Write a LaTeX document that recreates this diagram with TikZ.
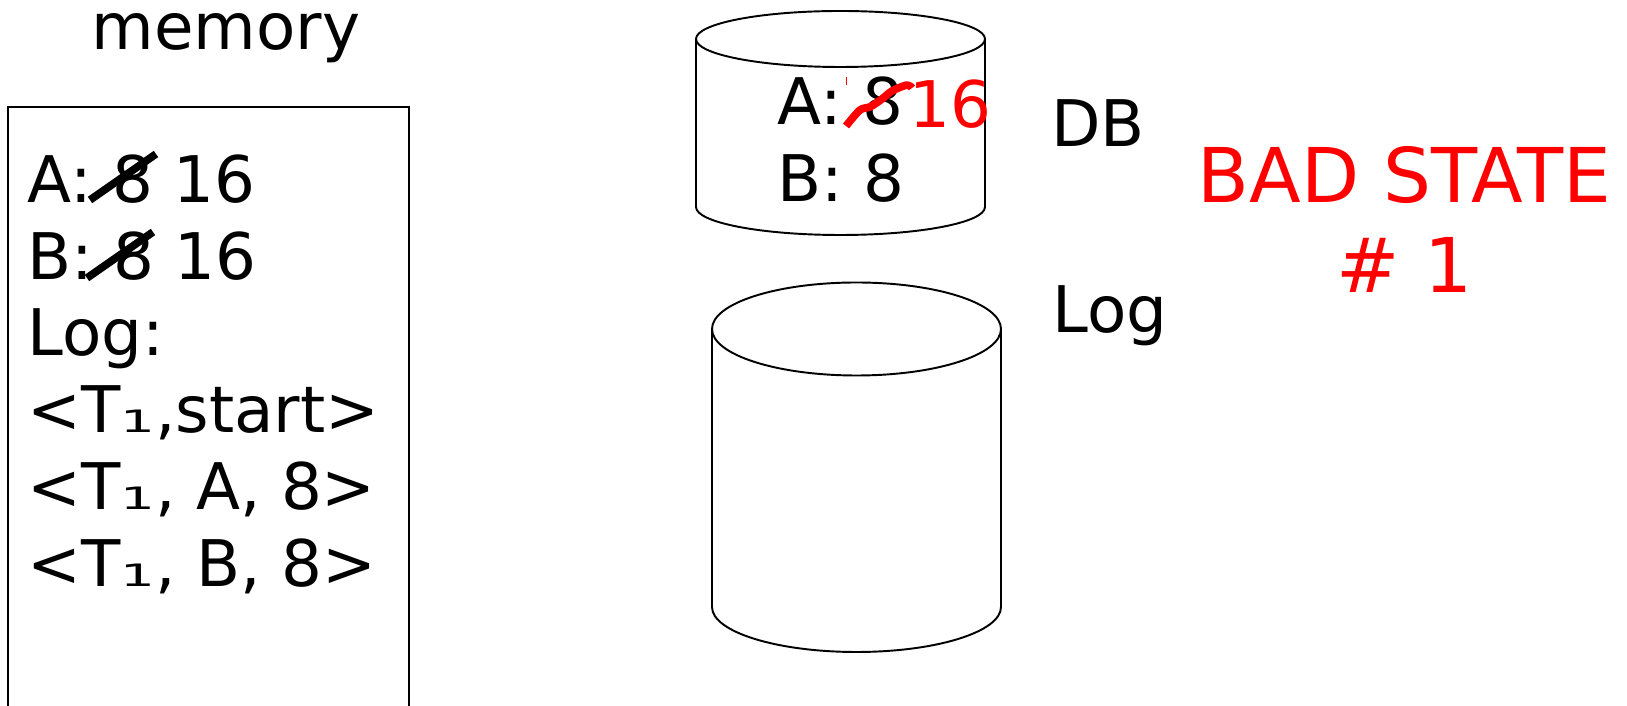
\documentclass[tikz,border=0pt]{standalone}
\usepackage{fontspec}
\setmainfont{DejaVu Sans}
\usetikzlibrary{calc}
% squat one after T, set on the baseline
\newcommand{\Tsubone}{T\scalebox{0.85}[0.48]{1}}

\begin{document}
\begin{tikzpicture}[x=0.02cm, y=0.02cm]
        % ================= styles =================
        \tikzset{
            % plain text, placed by its baseline
            txt/.style={inner sep=0pt, anchor=base west, font=\fontsize{36.6}{44}\selectfont},
            red_txt/.style={txt, text=red},
            % big red warning
            warn_txt/.style={inner sep=0pt, anchor=base, text=red, font=\fontsize{43}{52}\selectfont},
            % outlines
            box_line/.style={line width=0.9pt, black},
            drum_line/.style={line width=1.1pt, black},
            % crossed-out values
            strike/.style={line width=4.4pt, black},
            red_strike/.style={line width=4.4pt, red, line join=round}
        }
        \useasboundingbox (0,0) rectangle (1627,706);

        % ================= memory =================
        \node[inner sep=0pt, anchor=base, font=\fontsize{36.6}{44}\selectfont] (memtitle) at (226,656) {memory};
        \draw[box_line] (8,-10) rectangle (409,599);

        \node[txt] (memA) at (27,503) {A: 8 16};
        \node[txt] (memB) at (27,426) {B: 8 16};
        \node[txt] (memLog) at (27,350) {Log:};
        \node[txt] (logStart) at (27,273) {<\Tsubone,start>};
        \node[txt] (logA) at (27,196) {<\Tsubone, A, 8>};
        \node[txt] (logB) at (27,119) {<\Tsubone, B, 8>};

        % strike the old values
        \coordinate (sa1) at (90,506);
        \coordinate (sa2) at (156,552);
        \coordinate (sb1) at (87,428);
        \coordinate (sb2) at (153,474);
        \draw[strike] (sa1) -- (sa2);
        \draw[strike] (sb1) -- (sb2);

        % ================= DB on disk =================
        \draw[drum_line] (696,667) -- (696,499)
            arc[start angle=180, end angle=360, x radius=144.5, y radius=28] -- (985,667);
        \draw[drum_line] (840.5,667) ellipse [x radius=144.5, y radius=28];

        \node[txt] (dbA) at (777,581) {A: 8};
        \node[txt] (dbB) at (777,504) {B: 8};
        \node[red_txt] (dbNew) at (909,578) {16};
        \draw[red_strike] plot[smooth] coordinates {(846,580) (860,596) (870,599) (882,607) (892,615) (907,621) (912,618)};
        \draw[red, line width=0.5pt] (846,621) -- (846,629);

        \node[txt] (dbLabel) at (1051,559) {DB};

        % ================= log on disk =================
        \draw[drum_line] (712,377) -- (712,99)
            arc[start angle=180, end angle=360, x radius=144.5, y radius=45] -- (1001,377);
        \draw[drum_line] (856.5,377) ellipse [x radius=144.5, y radius=46.5];

        \node[txt] (logLabel) at (1052,373) {Log};

        % ================= verdict =================
        \node[warn_txt] (bad1) at (1404.5,503) {BAD STATE};
        \node[warn_txt] (bad2) at (1404.5,413) {\# 1};

    \end{tikzpicture}
\end{document}
